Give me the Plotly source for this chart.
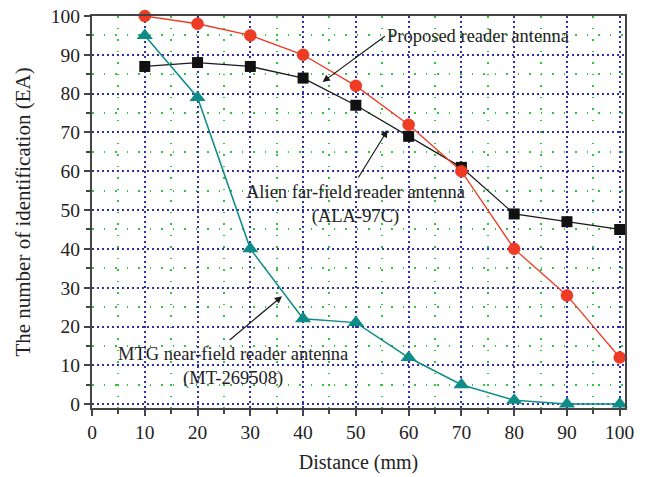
import plotly.graph_objects as go

distance = [10, 20, 30, 40, 50, 60, 70, 80, 90, 100]
proposed = [100, 98, 95, 90, 82, 72, 60, 40, 28, 12]
alien = [87, 88, 87, 84, 77, 69, 61, 49, 47, 45]
mtg = [95, 79, 40, 22, 21, 12, 5, 1, 0, 0]

FONT = "Liberation Serif"

fig = go.Figure()
fig.add_trace(go.Scatter(x=distance, y=alien, mode="lines+markers",
                         line=dict(color="#1a1a1a", width=1.3),
                         marker=dict(symbol="square", size=11, color="#111111"),
                         name="Alien", cliponaxis=False))
fig.add_trace(go.Scatter(x=distance, y=mtg, mode="lines+markers",
                         line=dict(color="#0e8c86", width=1.5),
                         marker=dict(symbol="triangle-up", size=14, color="#0e8c86"),
                         name="MTG", cliponaxis=False))
fig.add_trace(go.Scatter(x=distance, y=proposed, mode="lines+markers",
                         line=dict(color="#ee3b24", width=1.3),
                         marker=dict(symbol="circle", size=12, color="#ee3b24",
                                     line=dict(color="#d8301c", width=0.5)),
                         name="Proposed", cliponaxis=False))

ann_font = dict(family=FONT, size=18.5, color="#222222")
arrow = dict(showarrow=True, arrowhead=2, arrowsize=1.2, arrowwidth=1.2,
             arrowcolor="#1a1a1a", axref="x", ayref="y", xref="x", yref="y")

fig.add_annotation(x=43.7, y=83, ax=55.5, ay=94.8, text="Proposed reader antenna",
                   xanchor="left", font=ann_font, **arrow)
fig.add_annotation(x=56.0, y=70.6, ax=50.3, ay=58.0, text="", **arrow)
fig.add_annotation(x=50.0, y=51.5, text="Alien far-field reader antenna<br>(ALA-97C)",
                   showarrow=False, font=ann_font, xref="x", yref="y")
fig.add_annotation(x=36.0, y=27.8, ax=25.8, ay=16.2, text="", **arrow)
fig.add_annotation(x=26.7, y=9.8, text="MTG near-field reader antenna<br>(MT-269508)",
                   showarrow=False, font=ann_font, xref="x", yref="y")

axis_common = dict(showline=True, linecolor="#444444", linewidth=2, mirror=True,
                   ticks="outside", ticklen=6, tickwidth=1.5, tickcolor="#444444",
                   showgrid=True, gridcolor="#3030a8", griddash="1.5px,3.5px", gridwidth=1.5,
                   zeroline=False,
                   tickfont=dict(family=FONT, size=19.5, color="#222222"))

minor = dict(dtick=5, ticks="outside", ticklen=4, tickcolor="#444444",
             showgrid=True, gridcolor="#2ec83a", griddash="1.5px,10px", gridwidth=1.5)

fig.update_xaxes(range=[0, 101], dtick=10, tick0=0, minor=minor,
                 title=dict(text="Distance (mm)", font=dict(family=FONT, size=20, color="#222222"),
                            standoff=13),
                 **axis_common)
fig.update_yaxes(range=[-1, 100], dtick=10, tick0=0, minor=minor,
                 title=dict(text="The number of identification (EA)",
                            font=dict(family=FONT, size=21, color="#222222"), standoff=14),
                 **axis_common)

fig.update_layout(width=649, height=477, showlegend=False,
                  plot_bgcolor="white", paper_bgcolor="white",
                  margin=dict(l=92, r=24, t=16, b=69, autoexpand=False))

fig.write_html("out.html")
